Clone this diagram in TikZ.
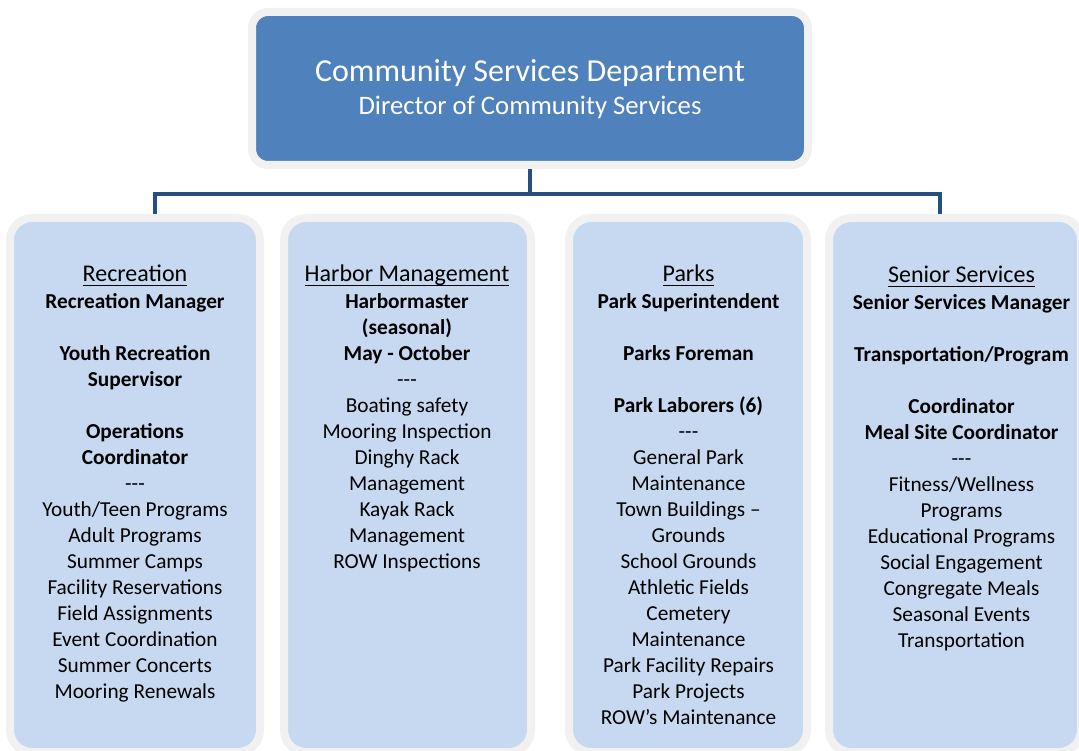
\documentclass[tikz,border=0pt]{standalone}
\usepackage{fontspec}
\setmainfont{Carlito}
\definecolor{topblue}{RGB}{79,129,189}
\definecolor{colblue}{RGB}{198,217,240}
\definecolor{rimgray}{RGB}{241,241,241}
\definecolor{linkblue}{RGB}{37,79,128}
\newcommand\headul[1]{{\fontsize{24}{26}\selectfont\setbox0\hbox{#1}\rlap{\rule[-4.6pt]{\wd0}{1.6pt}}\box0}}
\begin{document}
\begin{tikzpicture}[x=1pt,y=-1pt,
  topbox/.style={draw=rimgray, line width=8pt, fill=topblue, rounded corners=16pt,
    inner sep=0pt, minimum width=556pt, minimum height=153pt},
  colbox/.style={draw=rimgray, line width=8pt, fill=colblue, rounded corners=22pt,
    inner sep=0pt, minimum height=534pt},
  coltext/.style={anchor=north, align=center, inner sep=0pt, text=black,
    font=\fontsize{21.3}{26}\selectfont},
  titletext/.style={anchor=base, inner sep=0pt, text=white, font=\fontsize{32}{38}\selectfont},
  subtext/.style={anchor=base, inner sep=0pt, text=white, font=\fontsize{26.7}{32}\selectfont},
  conn/.style={draw=linkblue, line width=4.5pt}
]
\useasboundingbox (0,0) rectangle (1079,751);
\clip (0,0) rectangle (1079,751);

% boxes
\node[topbox] (top) at (530,88.5) {};
\node[colbox, minimum width=250pt] (rec) at (135,485) {};
\node[colbox, minimum width=247pt] (harb) at (407.5,485) {};
\node[colbox, minimum width=238pt] (parks) at (688,485) {};
\node[colbox, minimum width=252pt] (senior) at (955,485) {};

% connectors
\coordinate (busL) at (155,194);
\coordinate (busR) at (940,194);
\draw[conn] (top.south) -- (top.south |- busL);
\draw[conn] (busL |- rec.north) -- (busL) -- (busR) -- (busR |- senior.north);

% titles
\node[titletext] (title) at (530,81.5) {Community Services Department};
\node[subtext] (subtitle) at (530,114.3) {Director of Community Services};

% column texts
\node[coltext] (rectext) at (135,263.3) {\strut\headul{Recreation}\\[1pt]
  \textbf{Recreation Manager}\\[26pt]
  \textbf{Youth Recreation}\\
  \textbf{Supervisor}\\[26pt]
  \textbf{Operations}\\
  \textbf{Coordinator}\\
  -{}-{}-\\
  Youth/Teen Programs\\
  Adult Programs\\
  Summer Camps\\
  Facility Reservations\\
  Field Assignments\\
  Event Coordination\\
  Summer Concerts\\
  Mooring Renewals};

\node[coltext] (harbtext) at (407,263.3) {\strut\headul{Harbor Management}\\[1pt]
  \textbf{Harbormaster}\\
  \textbf{(seasonal)}\\
  \textbf{May - October}\\
  -{}-{}-\\
  Boating safety\\
  Mooring Inspection\\
  Dinghy Rack\\
  Management\\
  Kayak Rack\\
  Management\\
  ROW Inspections};

\node[coltext] (parkstext) at (688.5,263.3) {\strut\headul{Parks}\\[1pt]
  \textbf{Park Superintendent}\\[26pt]
  \textbf{Parks Foreman}\\[26pt]
  \textbf{Park Laborers (6)}\\
  -{}-{}-\\
  General Park\\
  Maintenance\\
  Town Buildings –\\
  Grounds\\
  School Grounds\\
  Athletic Fields\\
  Cemetery\\
  Maintenance\\
  Park Facility Repairs\\
  Park Projects\\
  ROW’s Maintenance};

\node[coltext] (seniortext) at (961.5,264.3) {\strut\headul{Senior Services}\\[1pt]
  \textbf{Senior Services Manager}\\[26pt]
  \textbf{Transportation/Program}\\[26pt]
  \textbf{Coordinator}\\
  \textbf{Meal Site Coordinator}\\
  -{}-{}-\\
  Fitness/Wellness\\
  Programs\\
  Educational Programs\\
  Social Engagement\\
  Congregate Meals\\
  Seasonal Events\\
  Transportation};
\end{tikzpicture}
\end{document}
